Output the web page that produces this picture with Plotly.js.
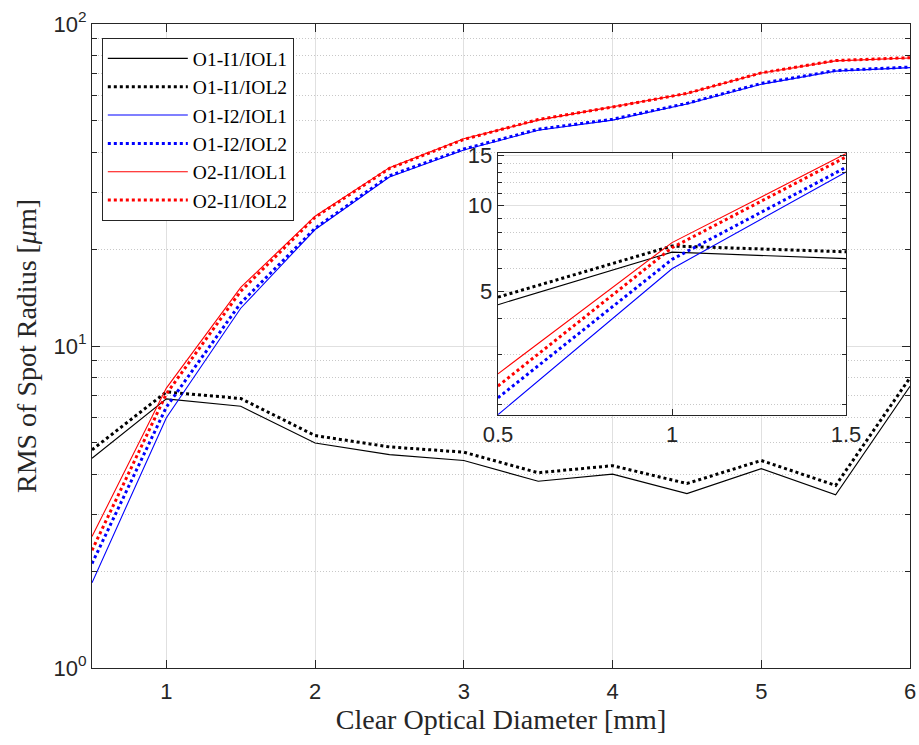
<!DOCTYPE html>
<html>
<head>
<meta charset="utf-8">
<script src="https://cdn.plot.ly/plotly-3.0.1.min.js"></script>
<style>html,body{margin:0;padding:0;background:#fff;}#chart{width:919px;height:745px;}</style>
</head>
<body>
<div id="chart"></div>
<script>
// ---- data ----
const diameter = [0.5, 1, 1.5, 2, 2.5, 3, 3.5, 4, 4.5, 5, 5.5, 6];
const o1i1_iol1 = [4.48, 6.85, 6.50, 5.00, 4.60, 4.41, 3.80, 4.00, 3.48, 4.16, 3.45, 7.50];
const o1i1_iol2 = [4.76, 7.20, 6.87, 5.27, 4.86, 4.68, 4.04, 4.25, 3.74, 4.41, 3.69, 7.97];
const o1i2_iol1 = [1.84, 5.99, 13.1, 23.0, 33.5, 40.6, 46.8, 50.3, 56.4, 65.0, 71.4, 73.2];
const o1i2_iol2 = [2.11, 6.46, 13.6, 23.2, 33.8, 40.9, 47.1, 50.6, 56.7, 65.4, 71.7, 73.5];
const o2i1_iol1 = [2.56, 7.40, 15.2, 25.3, 35.8, 44.0, 50.3, 55.2, 60.8, 70.4, 76.8, 78.4];
const o2i1_iol2 = [2.32, 7.10, 14.8, 25.1, 35.6, 43.8, 50.5, 55.2, 60.9, 70.5, 77.0, 78.6];
const seriesNames = ['O1-I1/IOL1', 'O1-I1/IOL2', 'O1-I2/IOL1', 'O1-I2/IOL2', 'O2-I1/IOL1', 'O2-I1/IOL2'];

// ---- ticks ----
const mainXTicks = [1, 2, 3, 4, 5, 6];
const mainYTicks = [1, 10, 100];
const mainYTickText = ['10<sup>0</sup>', '10<sup>1</sup>', '10<sup>2</sup>'];
const mainYMinor = [2, 3, 4, 5, 6, 7, 8, 9, 20, 30, 40, 50, 60, 70, 80, 90];
const insetXTicks = [0.5, 1, 1.5];
const insetXTickText = ['0.5', '1', '1.5'];
const insetYTicks = [5, 10, 15];
const insetYMinor = [2, 3, 4, 6, 7, 8, 9, 11, 12, 13, 14];

// ---- styles ----
const seriesValues = [o1i1_iol1, o1i1_iol2, o1i2_iol1, o1i2_iol2, o2i1_iol1, o2i1_iol2];
const colors = ['#000000', '#000000', '#0000ff', '#0000ff', '#ff0000', '#ff0000'];
const dashes = ['solid', 'dot', 'solid', 'dot', 'solid', 'dot'];
const widths = [1.1, 3, 1.1, 3, 1.1, 3];

const traces = [];
seriesValues.forEach((vals, i) => {
  traces.push({
    x: diameter, y: vals, type: 'scatter', mode: 'lines', name: seriesNames[i],
    line: {color: colors[i], dash: dashes[i], width: widths[i]},
    xaxis: 'x', yaxis: 'y', hoverinfo: 'skip'
  });
});
seriesValues.forEach((vals, i) => {
  traces.push({
    x: diameter, y: vals, type: 'scatter', mode: 'lines', name: seriesNames[i],
    line: {color: colors[i], dash: dashes[i], width: widths[i]},
    xaxis: 'x2', yaxis: 'y2', showlegend: false, hoverinfo: 'skip'
  });
});

const axColor = '#262626';
const majorGrid = '#e0e0e0';
const minorGrid = '#c8c8c8';
const minorDash = '1px,2px';
const tickFont = {family: 'Liberation Sans, Arial, sans-serif', size: 22, color: axColor};
const titleFont = {family: 'Liberation Serif, Times New Roman, serif', size: 28, color: axColor};

const layout = {
  width: 919, height: 745,
  margin: {l: 92, r: 9, t: 24, b: 77},
  paper_bgcolor: '#ffffff', plot_bgcolor: '#ffffff',
  showlegend: true,
  legend: {
    x: 0.012, y: 0.978, xanchor: 'left', yanchor: 'top',
    bgcolor: '#ffffff', bordercolor: axColor, borderwidth: 1,
    font: {family: 'Liberation Serif, Times New Roman, serif', size: 19.5, color: '#000'},
    itemwidth: 80, tracegroupgap: 0
  },
  xaxis: {
    domain: [0, 1], range: [0.5, 6], type: 'linear',
    tickmode: 'array', tickvals: mainXTicks,
    ticks: 'inside', ticklen: 8, tickcolor: axColor, tickwidth: 1,
    showline: true, linecolor: axColor, linewidth: 1, mirror: 'ticks',
    showgrid: true, gridcolor: majorGrid, gridwidth: 1, zeroline: false,
    tickfont: tickFont, ticklabelstandoff: 4,
    title: {text: 'Clear Optical Diameter [mm]', font: titleFont, standoff: 4}
  },
  yaxis: {
    domain: [0, 1], type: 'log', range: [0, 2],
    tickmode: 'array', tickvals: mainYTicks, ticktext: mainYTickText,
    ticks: 'inside', ticklen: 8, tickcolor: axColor, tickwidth: 1,
    showline: true, linecolor: axColor, linewidth: 1, mirror: 'ticks',
    showgrid: true, gridcolor: majorGrid, gridwidth: 1, zeroline: false,
    tickfont: tickFont,
    minor: {tickmode: 'array', tickvals: mainYMinor, ticks: 'inside', ticklen: 5,
            tickcolor: axColor, showgrid: true, gridcolor: minorGrid, griddash: minorDash, gridwidth: 1},
    title: {text: 'RMS of Spot Radius [<i>μ</i>m]', font: titleFont, standoff: 8}
  },
  xaxis2: {
    domain: [0.4963, 0.9218], anchor: 'y2', range: [0.5, 1.5], type: 'linear',
    tickmode: 'array', tickvals: insetXTicks, ticktext: insetXTickText,
    ticks: 'inside', ticklen: 6, tickcolor: axColor, tickwidth: 1,
    showline: true, linecolor: axColor, linewidth: 1.3, mirror: 'ticks',
    showgrid: true, gridcolor: majorGrid, gridwidth: 1, zeroline: false,
    tickfont: tickFont
  },
  yaxis2: {
    domain: [0.3933, 0.7994], anchor: 'x2', type: 'log',
    range: [Math.log10(1.84), Math.log10(15.25)],
    tickmode: 'array', tickvals: insetYTicks,
    ticks: 'inside', ticklen: 6, tickcolor: axColor, tickwidth: 1,
    showline: true, linecolor: axColor, linewidth: 1.3, mirror: 'ticks',
    showgrid: true, gridcolor: majorGrid, gridwidth: 1, zeroline: false,
    tickfont: tickFont,
    minor: {tickmode: 'array', tickvals: insetYMinor, ticks: 'inside', ticklen: 4,
            tickcolor: axColor, showgrid: true, gridcolor: minorGrid, griddash: minorDash, gridwidth: 1}
  },
  shapes: [{
    type: 'rect', xref: 'x2 domain', yref: 'y2 domain', x0: 0, x1: 1, y0: 0, y1: 1,
    fillcolor: '#ffffff', line: {width: 0}, layer: 'below'
  }]
};

Plotly.newPlot('chart', traces, layout, {staticPlot: true, displayModeBar: false});
</script>
</body>
</html>
